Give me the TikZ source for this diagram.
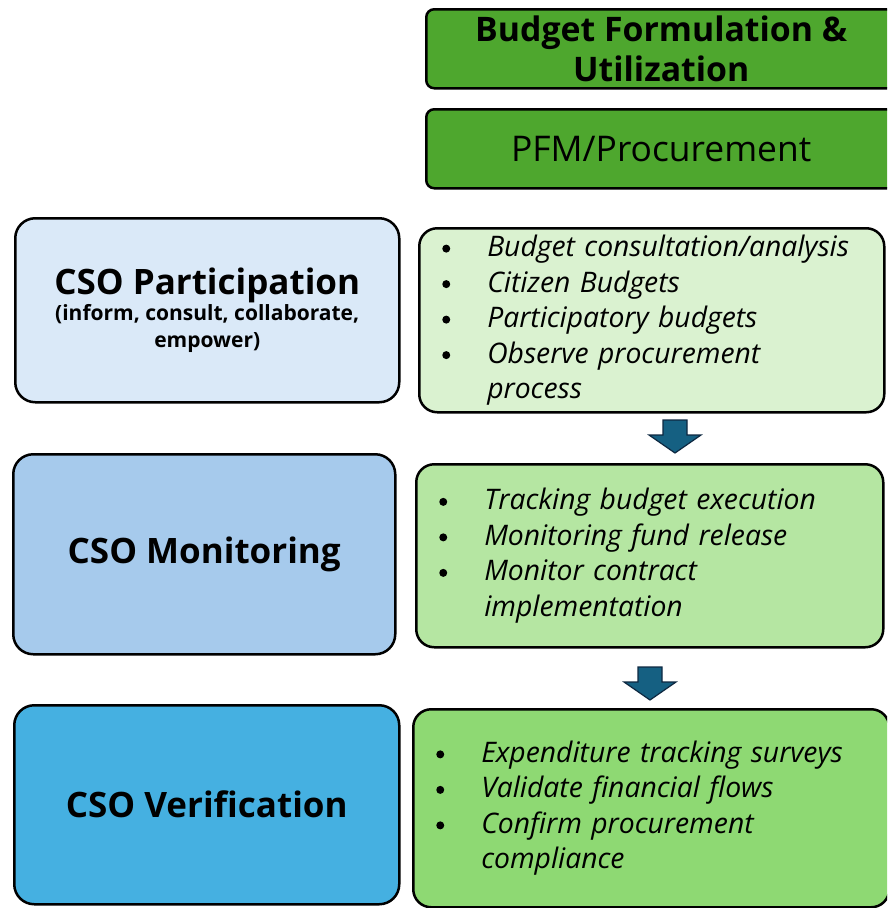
\documentclass[tikz,border=0pt]{standalone}
\usepackage{fontspec}
\setmainfont{Open Sans}
\usetikzlibrary{positioning}

\definecolor{headgreen}{HTML}{4EA72E}
\definecolor{partblue}{HTML}{DAE9F8}
\definecolor{monblue}{HTML}{A6CAEC}
\definecolor{verblue}{HTML}{45B0E1}
\definecolor{partgreen}{HTML}{DAF2D0}
\definecolor{mongreen}{HTML}{B5E6A2}
\definecolor{vergreen}{HTML}{8ED973}
\definecolor{arrowfill}{HTML}{156082}
\definecolor{arrowline}{HTML}{0E2841}

% bullet line and continuation line
\newcommand{\bul}{\hspace*{-1pt}\raisebox{4pt}{\tikz\fill (0,0) circle (4pt);}}
\newcommand{\itm}[1]{\makebox[44pt][l]{\bul}#1\\}
\newcommand{\cont}[1]{\hspace*{44pt}#1}
\newcommand{\subfont}{\fontsize{21}{26}\selectfont}

\tikzset{
  headbox/.style={draw=black, line width=2.5pt, fill=headgreen, rounded corners=8pt,
    minimum width=470pt, minimum height=79pt, anchor=north west, align=center, inner sep=0pt},
  csobox/.style={draw=black, line width=2.5pt, rounded corners=20pt, anchor=north west,
    align=center, inner sep=0pt, font=\bfseries\fontsize{35}{40}\selectfont},
  listbox/.style={draw=black, line width=2.5pt, rounded corners=18pt, anchor=north west,
    align=left, inner sep=0pt, font=\itshape\fontsize{28.3}{35.5}\selectfont},
  downarrow/.pic={
    \filldraw[fill=arrowfill, draw=arrowline, line width=1.2pt]
      (-12,0) -- (12,0) -- (12,15) -- (26,15) -- (0,33) -- (-26,15) -- (-12,15) -- cycle;
  }
}

\begin{document}
\begin{tikzpicture}[x=1pt, y=-1pt]
  \useasboundingbox (0,0) rectangle (887,908);
  \clip (0,0) rectangle (887,908);

  % green headers
  \node[headbox, font=\bfseries\fontsize{33.8}{40}\selectfont] (budget) at (425,8)
    {Budget Formulation \&\\Utilization};
  \node[headbox, font=\fontsize{35.4}{40}\selectfont] (pfm) at (425,108) {PFM/Procurement};

  % CSO boxes on the left
  \node[csobox, fill=partblue, minimum width=384pt, minimum height=184pt] (part) at (14,217)
    {CSO Participation\\[-14pt]
     \subfont (inform, consult, collaborate,\\[-13pt]\subfont empower)};
  \node[csobox, fill=monblue, minimum width=382pt, minimum height=200pt] (mon) at (12,453)
    {CSO Monitoring};
  \node[csobox, fill=verblue, minimum width=385pt, minimum height=199pt] (ver) at (13,704)
    {CSO Verification};

  % activity lists on the right
  \node[listbox, fill=partgreen, minimum width=465pt, minimum height=184pt, text width=417pt] (plist) at (418,227)
    {\itm{Budget consultation/analysis}
     \itm{Citizen Budgets}
     \itm{Participatory budgets}
     \itm{Observe procurement}
     \cont{process}};
  \node[listbox, fill=mongreen, minimum width=467pt, minimum height=183pt, text width=419pt] (mlist) at (415,463)
    {\itm{Tracking budget execution}
     \itm{Monitoring fund release}
     \itm{Monitor contract}
     \cont{implementation}};
  \node[listbox, fill=vergreen, minimum width=476pt, minimum height=198pt, text width=428pt] (vlist) at (412,708)
    {\itm{Expenditure tracking surveys}
     \itm{Validate financial flows}
     \itm{Confirm procurement}
     \cont{compliance}};

  % block arrows between the lists
  \pic at (675,420) {downarrow};
  \pic at (650,667) {downarrow};
\end{tikzpicture}
\end{document}
